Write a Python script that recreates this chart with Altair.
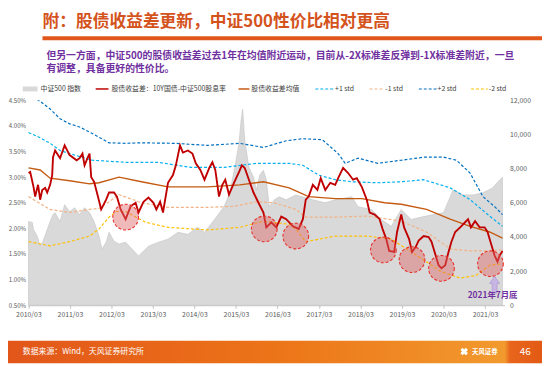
import altair as alt
import pandas as pd

FONT = "Noto Sans CJK SC"

# ---------------- data ----------------
# x values are decimal years (2010.17 = 2010/03)
spread_yr = [2010.17, 2010.21, 2010.29, 2010.33, 2010.38, 2010.40, 2010.45, 2010.50, 2010.57, 2010.62,
             2010.69, 2010.74, 2010.76, 2010.81, 2010.93, 2011.04, 2011.16, 2011.33, 2011.40, 2011.47,
             2011.52, 2011.59, 2011.64, 2011.68, 2011.75, 2011.83, 2011.92, 2012.04, 2012.11, 2012.23,
             2012.30, 2012.39, 2012.51, 2012.63, 2012.75, 2012.82, 2012.94, 2013.06, 2013.18, 2013.25,
             2013.34, 2013.41, 2013.53, 2013.65, 2013.72, 2013.82, 2013.89, 2014.01, 2014.12, 2014.20,
             2014.31, 2014.41, 2014.53, 2014.60, 2014.67, 2014.76, 2014.84, 2014.91, 2015.00, 2015.12,
             2015.24, 2015.31, 2015.38, 2015.48, 2015.59, 2015.71, 2015.83, 2015.90, 2016.02, 2016.14,
             2016.26, 2016.38, 2016.54, 2016.68, 2016.78, 2016.85, 2016.92, 2017.02, 2017.13, 2017.21,
             2017.32, 2017.44, 2017.56, 2017.63, 2017.75, 2017.87, 2017.99, 2018.08, 2018.20, 2018.32,
             2018.39, 2018.51, 2018.63, 2018.70, 2018.79, 2018.86, 2018.98, 2019.05, 2019.15, 2019.22,
             2019.34, 2019.41, 2019.50, 2019.57, 2019.69, 2019.81, 2019.88, 2019.98, 2020.05, 2020.12,
             2020.21, 2020.29, 2020.36, 2020.45, 2020.57, 2020.69, 2020.76, 2020.83, 2020.93, 2021.04,
             2021.16, 2021.23, 2021.30, 2021.40, 2021.47, 2021.52, 2021.59]
spread_val = [3.08, 3.10, 2.81, 2.62, 2.79, 2.85, 2.56, 2.75, 2.79, 2.70,
              2.85, 3.04, 3.39, 3.52, 3.37, 3.62, 3.43, 3.33, 3.37, 3.46,
              3.23, 3.37, 3.46, 3.00, 2.91, 2.66, 2.37, 2.56, 2.70, 2.70,
              2.62, 2.37, 2.18, 2.43, 2.50, 2.31, 2.52, 2.60, 2.50, 2.37,
              2.52, 2.31, 2.89, 3.04, 3.23, 3.62, 3.48, 3.52, 3.46, 3.27,
              3.14, 2.95, 3.19, 3.29, 3.14, 2.62, 2.85, 2.95, 2.66, 2.89,
              3.10, 3.23, 3.18, 2.95, 2.70, 2.50, 2.31, 2.02, 2.12, 2.02,
              2.23, 2.18, 2.04, 1.99, 2.18, 2.56, 2.62, 2.85, 2.75, 2.98,
              2.75, 2.89, 2.85, 2.98, 3.18, 3.08, 2.95, 2.98, 2.81, 2.56,
              2.31, 2.27, 2.18, 1.99, 1.79, 1.56, 1.54, 1.93, 2.27, 2.02,
              1.79, 1.54, 1.64, 1.76, 1.85, 1.83, 1.74, 1.47, 1.28, 1.22,
              1.28, 1.54, 1.74, 1.93, 2.02, 2.12, 2.18, 2.02, 2.14, 2.02,
              2.02, 1.93, 1.74, 1.47, 1.35, 1.47, 1.56]

csi_yr = [2010.17, 2010.26, 2010.29, 2010.38, 2010.45, 2010.52, 2010.62, 2010.69, 2010.76, 2010.81,
          2010.93, 2011.04, 2011.16, 2011.28, 2011.40, 2011.52, 2011.64, 2011.75, 2011.87, 2011.94,
          2012.04, 2012.11, 2012.23, 2012.35, 2012.51, 2012.82, 2013.06, 2013.30, 2013.53, 2013.77,
          2014.01, 2014.24, 2014.41, 2014.65, 2014.88, 2015.02, 2015.14, 2015.24, 2015.29, 2015.33,
          2015.38, 2015.48, 2015.59, 2015.66, 2015.74, 2015.83, 2015.90, 2015.97, 2016.09, 2016.21,
          2016.38, 2016.61, 2017.02, 2017.32, 2017.56, 2017.96, 2018.11, 2018.44, 2018.67, 2018.91,
          2019.15, 2019.39, 2019.69, 2019.93, 2020.17, 2020.33, 2020.40, 2020.64, 2020.88, 2021.12,
          2021.35, 2021.52, 2021.59]
csi_val = [4900, 4850, 4440, 4040, 3460, 3750, 4440, 4900, 5310, 5420,
           4900, 5890, 5480, 5710, 5310, 5710, 5420, 4900, 4040, 3290,
           3690, 4270, 3750, 3580, 3690, 2890, 3460, 3690, 3870, 4270,
           4150, 4560, 4270, 5020, 5770, 6580, 8080, 9460, 10790, 11480,
           9640, 8080, 7500, 6750, 7620, 7900, 7330, 5770, 6170, 6350,
           6170, 6460, 6170, 6000, 6170, 6350, 5770, 5600, 5020, 4620,
           5600, 5020, 5190, 5310, 5420, 6350, 6750, 6460, 6460, 6580,
           6870, 7330, 7500]

mean_yr = [2010.17, 2010.45, 2010.69, 2011.16, 2011.64, 2011.87, 2012.35, 2012.89, 2013.53, 2014.48,
           2015.26, 2015.83, 2016.45, 2016.92, 2017.56, 2018.20, 2018.75, 2019.15, 2019.76, 2020.33,
           2020.81, 2021.28, 2021.59]
mean_val = [3.18, 3.14, 2.98, 2.93, 2.87, 2.89, 3.00, 2.91, 2.81, 2.81,
            2.85, 2.91, 2.79, 2.62, 2.58, 2.58, 2.50, 2.47, 2.37, 2.18,
            2.04, 1.93, 1.81]

p1_yr = [2010.17, 2010.45, 2010.69, 2010.93, 2011.16, 2011.71, 2012.51, 2013.30, 2014.08, 2014.88,
         2015.66, 2016.45, 2016.78, 2017.16, 2017.56, 2017.96, 2018.58, 2019.15, 2019.69, 2020.33,
         2020.81, 2021.28, 2021.59]
p1_val = [3.87, 3.77, 3.66, 3.52, 3.46, 3.33, 3.29, 3.29, 3.19, 3.19,
          3.27, 3.27, 3.23, 3.04, 2.95, 2.91, 2.89, 2.91, 2.95, 2.79,
          2.56, 2.24, 2.04]

m1_yr = [2010.17, 2010.69, 2011.16, 2011.64, 2011.87, 2012.11, 2012.35, 2012.89, 2013.53, 2014.48,
         2015.12, 2015.66, 2016.07, 2016.38, 2016.61, 2016.85, 2017.56, 2018.34, 2019.15, 2019.76,
         2020.33, 2020.81, 2021.28, 2021.59]
m1_val = [2.62, 2.37, 2.31, 2.37, 2.39, 2.52, 2.66, 2.50, 2.41, 2.41,
          2.43, 2.52, 2.50, 2.43, 2.37, 2.22, 2.22, 2.24, 2.14, 1.93,
          1.60, 1.56, 1.56, 1.58]

p2_yr = [2010.17, 2010.45, 2010.69, 2010.93, 2011.16, 2011.40, 2011.71, 2012.11, 2012.51, 2012.89,
         2013.70, 2014.48, 2015.26, 2015.83, 2016.38, 2016.78, 2017.25, 2017.63, 2017.80, 2018.11,
         2018.58, 2019.15, 2019.69, 2020.17, 2020.48, 2020.81, 2021.12, 2021.42, 2021.59]
p2_val = [4.62, 4.48, 4.33, 4.14, 4.04, 3.98, 3.85, 3.67, 3.66, 3.67,
          3.66, 3.62, 3.66, 3.58, 3.71, 3.75, 3.73, 3.46, 3.27, 3.37,
          3.27, 3.33, 3.39, 3.39, 3.33, 3.08, 2.62, 2.41, 2.27]

m2_yr = [2010.17, 2010.69, 2011.16, 2011.64, 2011.87, 2012.11, 2012.28, 2012.51, 2012.99, 2013.53,
         2014.48, 2015.26, 2015.83, 2016.45, 2016.61, 2016.85, 2017.56, 2018.34, 2018.91, 2019.53,
         2020.10, 2020.57, 2020.95, 2021.28, 2021.59]
m2_val = [1.74, 1.66, 1.74, 1.85, 1.99, 2.22, 2.33, 2.33, 2.12, 2.02,
          1.97, 2.02, 2.14, 2.08, 1.99, 1.74, 1.85, 1.85, 1.79, 1.47,
          1.16, 1.03, 1.08, 1.28, 1.31]

circle_yr = [2012.51, 2015.85, 2016.61, 2018.72, 2019.41, 2020.12, 2021.30]
circle_val = [2.22, 1.99, 1.85, 1.58, 1.39, 1.22, 1.31]

arrow_yr = [2021.40]
arrow_val = [0.90]
anno_yr = [2021.35]
anno_val = [0.70]
anno_text = "2021年7月底"

x_tick_years = [2010, 2011, 2012, 2013, 2014, 2015, 2016, 2017, 2018, 2019, 2020, 2021]
left_ticks = [0.5, 1.0, 1.5, 2.0, 2.5, 3.0, 3.5, 4.0, 4.5]
right_ticks = [0, 2000, 4000, 6000, 8000, 10000, 12000]

title_text = "附：股债收益差更新，中证500性价比相对更高"
sub_line1 = "但另一方面，中证500的股债收益差过去1年在均值附近运动，目前从-2X标准差反弹到-1X标准差附近，一旦"
sub_line2 = "有调整，具备更好的性价比。"
legend_labels = ["中证500 指数", "股债收益差：10Y国债-中证500股息率", "股债收益差均值",
                 "+1 std", "-1 std", "+2 std", "-2 std"]
source_text = "数据来源：Wind，天风证券研究所"
page_no = "46"

# ---------------- chart ----------------
W, H = 484, 208
x_scale = alt.Scale(domain=[2010.15, 2021.64], nice=False, zero=False)
x_axis = alt.Axis(values=[y + 0.167 for y in x_tick_years], labelExpr="floor(datum.value) + '/03'",
                  title=None, grid=False, domainColor="#BFBFBF", tickColor="#BFBFBF", tickSize=3,
                  labelPadding=2, labelOverlap=False, labelFlush=False, labelBound=False)
yl_scale = alt.Scale(domain=[0.5, 4.5], nice=False, zero=False)
yl_axis = alt.Axis(values=left_ticks, labelExpr="format(datum.value, '.2f') + '%'", title=None,
                   grid=False, domain=False, ticks=False, labelPadding=2, orient="left",
                   labelFontSize=6.2)
yr_scale = alt.Scale(domain=[0, 12000], nice=False, zero=True)
yr_axis = alt.Axis(values=right_ticks, labelExpr="format(datum.value, ',.0f')", title=None,
                   grid=False, domain=False, ticks=False, labelPadding=5, orient="right")


def df(xs, ys):
    return pd.DataFrame({"yr": xs, "v": ys})


area = alt.Chart(df(csi_yr, csi_val)).mark_area(
    fill="#D9D9D9", stroke="#C4C4C4", strokeWidth=0.6
).encode(x=alt.X("yr:Q", scale=x_scale, axis=x_axis),
         y=alt.Y("v:Q", scale=yr_scale, axis=yr_axis))


def line(xs, ys, color, width, dash=None, axis=None):
    kw = dict(color=color, strokeWidth=width, clip=True)
    if dash:
        kw["strokeDash"] = dash
    return alt.Chart(df(xs, ys)).mark_line(**kw).encode(
        x=alt.X("yr:Q", scale=x_scale, axis=x_axis),
        y=alt.Y("v:Q", scale=yl_scale, axis=axis))


C_RED, C_MEAN, C_P1, C_M1, C_P2, C_M2 = "#C00000", "#C55A11", "#00B0F0", "#F4B183", "#0070C0", "#FFC000"
DASH = [3, 2]

l_m2 = line(m2_yr, m2_val, C_M2, 1.2, DASH)
l_m1 = line(m1_yr, m1_val, C_M1, 1.2, DASH)
l_p1 = line(p1_yr, p1_val, C_P1, 1.2, DASH)
l_p2 = line(p2_yr, p2_val, C_P2, 1.2, DASH)
l_mean = line(mean_yr, mean_val, C_MEAN, 1.4)
l_spread = line(spread_yr, spread_val, C_RED, 1.9, axis=yl_axis)

circles = alt.Chart(df(circle_yr, circle_val)).mark_point(
    shape="circle", size=680, filled=True, fill="#E06666", fillOpacity=0.45, opacity=1,
    stroke="#E8302A", strokeWidth=1.1, strokeDash=[3, 2]
).encode(x=alt.X("yr:Q", scale=x_scale, axis=x_axis), y=alt.Y("v:Q", scale=yl_scale, axis=None))

arrow = alt.Chart(df(arrow_yr, arrow_val)).mark_point(
    shape="M-0.3,1 L-0.3,-0.15 L-0.6,-0.15 L0,-1 L0.6,-0.15 L0.3,-0.15 L0.3,1 Z",
    size=290, filled=True, fill="#C7B5E3", stroke="#A690CF", strokeWidth=0.6, opacity=1
).encode(x=alt.X("yr:Q", scale=x_scale, axis=x_axis), y=alt.Y("v:Q", scale=yl_scale, axis=None))

anno = alt.Chart(df(anno_yr, anno_val)).mark_text(
    text=anno_text, font=FONT, fontSize=8.5, fontWeight="bold", color="#7030A0",
    align="center", baseline="middle"
).encode(x=alt.X("yr:Q", scale=x_scale, axis=x_axis), y=alt.Y("v:Q", scale=yl_scale, axis=None))

one = pd.DataFrame({"k": [0]})


def dtext(txt, x, y, size, color, weight="normal", align="left"):
    return alt.Chart(one).mark_text(text=txt, font=FONT, fontSize=size, color=color,
                                    fontWeight=weight, align=align, baseline="middle").encode(
        x=alt.value(x), y=alt.value(y))


def drect(x, x2, y, y2, color):
    return alt.Chart(one).mark_rect(color=color).encode(
        x=alt.value(x), x2=alt.value(x2), y=alt.value(y), y2=alt.value(y2))


def drule(x, x2, y, color, width, dash=None):
    kw = dict(color=color, strokeWidth=width)
    if dash:
        kw["strokeDash"] = dash
    return alt.Chart(one).mark_rule(**kw).encode(x=alt.value(x), x2=alt.value(x2), y=alt.value(y))


LY = -11.5
LC = "#404040"
LF = 7
decos = [
    dtext(title_text, 15, -79, 17, "#D4531C", "bold"),
    drect(15, 522, -65, -61, "#E0561B"),
    dtext(sub_line1, 19, -45, 10, "#7030A0", "bold"),
    dtext(sub_line2, 19, -32, 10, "#7030A0", "bold"),
    drect(-5, 10, LY - 2.5, LY + 2.5, "#D9D9D9"),
    dtext(legend_labels[0], 13, LY, LF, LC),
    drule(69, 82, LY, C_RED, 1.5),
    dtext(legend_labels[1], 85, LY, LF, LC),
    drule(214, 225, LY, C_MEAN, 1.5),
    dtext(legend_labels[2], 227, LY, LF, LC),
    drule(292, 310, LY, C_P1, 1.2, DASH),
    dtext(legend_labels[3], 312, LY, LF, LC),
    drule(347, 362, LY, C_M1, 1.2, DASH),
    dtext(legend_labels[4], 363, LY, LF, LC),
    drule(397, 415, LY, C_P2, 1.2, DASH),
    dtext(legend_labels[5], 416, LY, LF, LC),
    drule(450, 467, LY, C_M2, 1.2, DASH),
    dtext(legend_labels[6], 468, LY, LF, LC),
]

footer = alt.Chart(one).mark_rect(
    color=alt.LinearGradient(gradient="linear", x1=0, x2=1, y1=0, y2=0,
                             stops=[alt.GradientStop(color="#E2561A", offset=0),
                                    alt.GradientStop(color="#EC7418", offset=0.5),
                                    alt.GradientStop(color="#F29A2E", offset=0.93),
                                    alt.GradientStop(color="#E8651C", offset=0.94),
                                    alt.GradientStop(color="#E25A14", offset=1)])
).encode(x=alt.value(-20), x2=alt.value(522), y=alt.value(244), y2=alt.value(267))

logo_icon = alt.Chart(one).mark_point(shape="cross", size=60, filled=True, color="white",
                                      angle=45, opacity=1).encode(x=alt.value(443), y=alt.value(255))

decos += [
    footer,
    dtext(source_text, -5, 256, 8, "white"),
    logo_icon,
    dtext("天风证券", 451, 255, 6.5, "white", "bold"),
    dtext(page_no, 505, 256, 10, "white", align="center"),
]

chart = alt.layer(area, l_m2, l_m1, l_p1, l_p2, l_mean, l_spread, circles, arrow, anno, *decos).resolve_scale(
    y="independent"
).properties(
    width=W, height=H,
    padding={"left": 20, "top": 91, "right": 38, "bottom": 59},
    autosize=alt.AutoSizeParams(type="none"),
    background="white",
).configure_view(stroke=None).configure_axis(
    labelFont=FONT, labelFontSize=7, labelColor="#595959"
)

chart.save("out.html", embed_options={"renderer": "svg", "actions": False})
